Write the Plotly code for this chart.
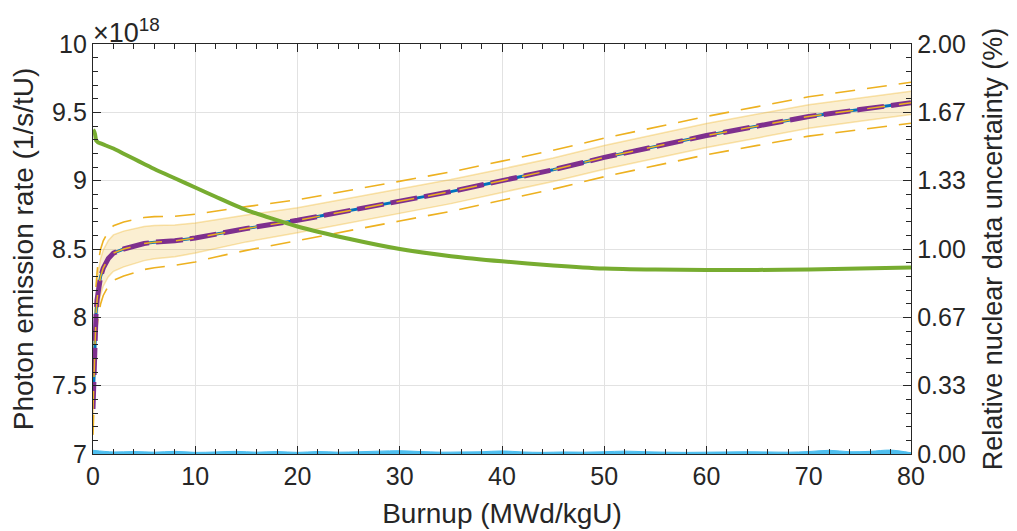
import plotly.graph_objects as go

# Burnup (MWd/kgU)
burnup = [0, 0.1, 0.2, 0.3, 0.4, 0.5, 0.75, 1, 1.5, 2, 3, 4, 5, 6, 8, 10, 12, 15,
          20, 25, 30, 35, 40, 45, 50, 55, 60, 65, 70, 75, 80]
# Photon emission rate, units of 1e18 1/s/tU
mean_rate = [7.33, 7.62, 7.88, 8.03, 8.13, 8.20, 8.30, 8.36, 8.43, 8.47, 8.50, 8.52,
             8.54, 8.55, 8.56, 8.58, 8.61, 8.65, 8.71, 8.78, 8.85, 8.92, 9.00, 9.08,
             9.17, 9.25, 9.33, 9.40, 9.47, 9.52, 9.57]
# 1-sigma and outer half-widths (1e18 1/s/tU)
sigma_band = [0.117, 0.12, 0.125, 0.128, 0.13, 0.13, 0.131, 0.132, 0.133, 0.133, 0.131,
              0.128, 0.125, 0.122, 0.116, 0.11, 0.105, 0.098, 0.091, 0.09, 0.089, 0.088,
              0.086, 0.086, 0.087, 0.087, 0.088, 0.087, 0.086, 0.085, 0.085]
sigma_outer = [0.19, 0.19, 0.195, 0.2, 0.2, 0.2, 0.2, 0.2, 0.2, 0.2, 0.198, 0.195, 0.19,
               0.187, 0.18, 0.175, 0.168, 0.16, 0.15, 0.147, 0.145, 0.144, 0.143, 0.142,
               0.141, 0.14, 0.14, 0.142, 0.144, 0.147, 0.15]
# Relative nuclear data uncertainty (%)
rel_unc = [1.58, 1.575, 1.56, 1.53, 1.525, 1.52, 1.515, 1.51, 1.50, 1.49, 1.465, 1.44,
           1.415, 1.39, 1.345, 1.30, 1.255, 1.19, 1.11, 1.05, 1.00, 0.965, 0.94, 0.92,
           0.905, 0.90, 0.898, 0.898, 0.90, 0.905, 0.91]
# Small statistical uncertainty (%) near zero
burnup_stat = list(range(0, 82, 2))
stat_unc = [0.018, 0.010, 0.012, 0.009, 0.013, 0.008, 0.010, 0.013, 0.009, 0.012, 0.008,
            0.012, 0.009, 0.011, 0.014, 0.016, 0.012, 0.009, 0.010, 0.011, 0.015, 0.010,
            0.008, 0.010, 0.009, 0.011, 0.014, 0.011, 0.009, 0.008, 0.009, 0.010, 0.011,
            0.010, 0.009, 0.012, 0.018, 0.011, 0.013, 0.019, 0.006]

ORANGE = "#EDB120"
band_hi = [m + s for m, s in zip(mean_rate, sigma_band)]
band_lo = [m - s for m, s in zip(mean_rate, sigma_band)]
outer_hi = [m + s for m, s in zip(mean_rate, sigma_outer)]
outer_lo = [m - s for m, s in zip(mean_rate, sigma_outer)]

fig = go.Figure()
fig.add_trace(go.Scatter(x=burnup, y=band_lo, mode="lines",
                         line=dict(color="rgba(237,177,32,0.35)", width=1.5),
                         showlegend=False, hoverinfo="skip"))
fig.add_trace(go.Scatter(x=burnup, y=band_hi, mode="lines", fill="tonexty",
                         fillcolor="rgba(237,177,32,0.2)",
                         line=dict(color="rgba(237,177,32,0.35)", width=1.5),
                         showlegend=False, hoverinfo="skip"))
for arr in (outer_hi, outer_lo):
    fig.add_trace(go.Scatter(x=burnup, y=arr, mode="lines",
                             line=dict(color=ORANGE, width=1.6, dash="20px,12px"),
                             showlegend=False))
fig.add_trace(go.Scatter(x=burnup, y=mean_rate, mode="lines",
                         line=dict(color="#0072BD", width=3), showlegend=False))
fig.add_trace(go.Scatter(x=burnup, y=mean_rate, mode="lines",
                         line=dict(color="#7E2F8E", width=5, dash="27px,7px"),
                         showlegend=False))
fig.add_trace(go.Scatter(x=burnup, y=mean_rate, mode="lines",
                         line=dict(color=ORANGE, width=1.5, dash="18px,14px"),
                         showlegend=False))
fig.add_trace(go.Scatter(x=burnup, y=rel_unc, mode="lines", yaxis="y2",
                         line=dict(color="#77AC30", width=4, shape="spline",
                                   smoothing=0.6),
                         showlegend=False))
fig.add_trace(go.Scatter(x=burnup_stat, y=stat_unc, mode="lines", yaxis="y2",
                         fill="tozeroy", fillcolor="#4DBEEE",
                         line=dict(color="#4DBEEE", width=1, shape="spline"),
                         showlegend=False))

FONT = "Liberation Sans, Arial, sans-serif"
TICKC = "#262626"
TFS = 25
LFS = 28
fig.update_layout(
    width=1001, height=523,
    margin=dict(l=85, r=98, t=36, b=77, autoexpand=False),
    paper_bgcolor="white", plot_bgcolor="white",
    font=dict(family=FONT, size=TFS, color=TICKC),
    xaxis=dict(range=[0, 80], dtick=10, ticks="inside", ticklen=8, tickwidth=1.2,
               tickcolor="#262626", showline=True, linecolor="#262626", linewidth=1.3,
               mirror="ticks", showgrid=True, gridcolor="#e2e2e2", gridwidth=1,
               zeroline=False, automargin=False,
               minor=dict(dtick=2, ticks="inside", ticklen=5, tickcolor="#262626",
                          showgrid=False),
               title=dict(text="Burnup (MWd/kgU)", font=dict(size=LFS, color=TICKC),
                          standoff=14),
               tickfont=dict(size=TFS, color=TICKC)),
    yaxis=dict(range=[7, 10], tickvals=[7, 7.5, 8, 8.5, 9, 9.5, 10],
               ticktext=["7", "7.5", "8", "8.5", "9", "9.5", "10"],
               ticks="inside", ticklen=8, tickwidth=1.2, tickcolor="#262626",
               showline=True, linecolor="#262626", linewidth=1.3, mirror=False,
               showgrid=True, gridcolor="#e2e2e2", gridwidth=1, zeroline=False,
               automargin=False,
               minor=dict(dtick=0.1, ticks="inside", ticklen=5, tickcolor="#262626",
                          showgrid=False),
               title=dict(text="Photon emission rate (1/s/tU)",
                          font=dict(size=LFS, color=TICKC), standoff=10),
               tickfont=dict(size=TFS, color=TICKC)),
    yaxis2=dict(range=[0, 2], overlaying="y", side="right",
                tickvals=[0, 1/3, 2/3, 1, 4/3, 5/3, 2],
                ticktext=["0.00", "0.33", "0.67", "1.00", "1.33", "1.67", "2.00"],
                ticks="inside", ticklen=8, tickwidth=1.2, tickcolor="#262626",
                showline=True, linecolor="#262626", linewidth=1.3,
                showgrid=False, zeroline=False, automargin=False,
                minor=dict(dtick=1/15, tick0=0, ticks="inside", ticklen=5,
                           tickcolor="#262626"),
                title=dict(text="Relative nuclear data uncertainty (%)",
                           font=dict(size=27, color=TICKC), standoff=18),
                tickfont=dict(size=TFS, color=TICKC)),
    annotations=[dict(text="×10<sup>18</sup>", xref="paper", yref="paper",
                      x=0, y=1, xanchor="left", yanchor="bottom", showarrow=False,
                      font=dict(size=27, color=TICKC), xshift=-2, yshift=-6)],
)

fig.write_html("out.html")
